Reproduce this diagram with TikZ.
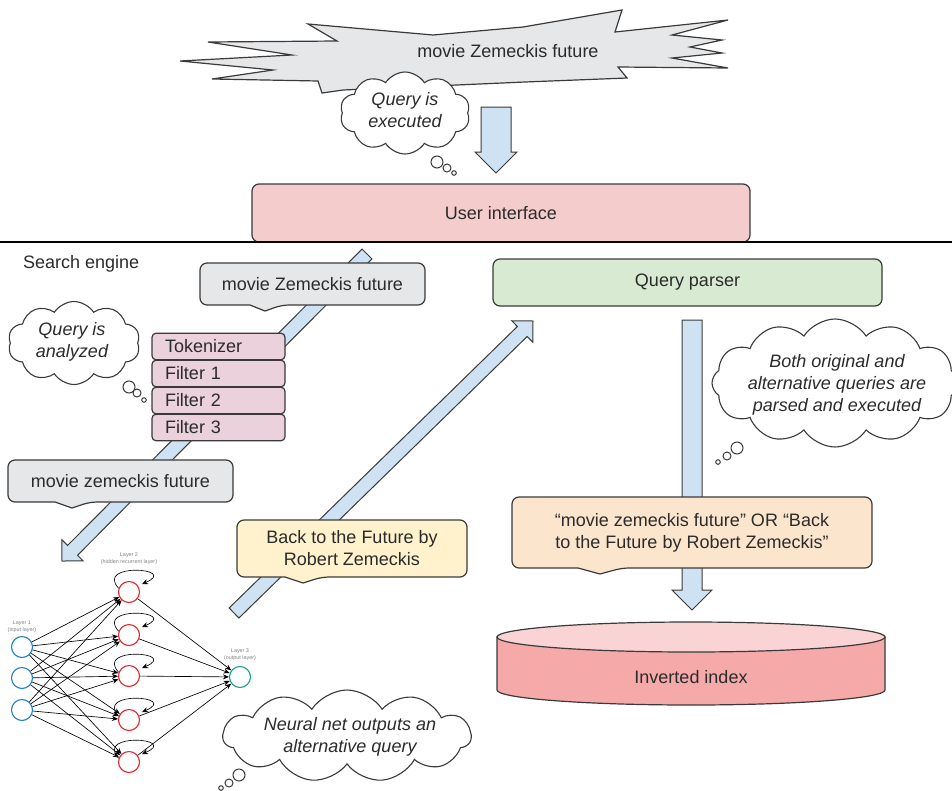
\documentclass[tikz,border=0pt]{standalone}
\usepackage{fontspec}
\setmainfont{Liberation Sans}
\usetikzlibrary{calc,shapes.symbols,arrows.meta}
\pgfdeclarelayer{arrowlayer}
\pgfdeclarelayer{shapelayer}
\pgfsetlayers{arrowlayer,shapelayer,main}

\definecolor{ink}{HTML}{2B2B2B}
\definecolor{edge}{HTML}{3A3A3A}
\definecolor{uifill}{HTML}{F4CCCC}
\definecolor{qpfill}{HTML}{D9EAD3}
\definecolor{filterfill}{HTML}{EAD1DC}
\definecolor{greyfill}{HTML}{E6E7E8}
\definecolor{yellowfill}{HTML}{FFF2CC}
\definecolor{orangefill}{HTML}{FCE5CD}
\definecolor{arrowfill}{HTML}{CFE2F3}
\definecolor{cyltop}{HTML}{FAD4D4}
\definecolor{cylbody}{HTML}{F5A9A9}
\definecolor{nnblue}{HTML}{1F7FD0}
\definecolor{nnred}{HTML}{E8262B}
\definecolor{nnteal}{HTML}{17A08E}

% block arrow: #1 start, #2 tip, #3 half shaft, #4 half head, #5 head length
\newcommand\blockarrow[5]{%
  \coordinate (ba-h) at ($(#2)!#5!(#1)$);
  \draw[arrowbody] ($(#1)!#3!90:(#2)$) -- ($(ba-h)!#3!-90:(#1)$) -- ($(ba-h)!#4!-90:(#1)$)
    -- (#2) -- ($(ba-h)!#4!90:(#1)$) -- ($(ba-h)!#3!90:(#1)$) -- ($(#1)!#3!-90:(#2)$) -- cycle;}

% speech box behind a text node: #1 node, #2 fill, #3 notch left, #4 notch tip, #5 notch right
\newcommand\calloutbox[5]{%
  \draw[stroke, fill=#2] ($(#1.south west)+(#3,0)$) [rounded corners=7pt] -- (#1.south west)
    -- (#1.north west) -- (#1.north east) -- (#1.south east) -- ($(#1.south west)+(#5,0)$)
    [sharp corners] -- ($(#1.south west)+(#4,6)$) -- cycle;}

\begin{document}
\begin{tikzpicture}[x=1pt,y=-1pt,
  font=\fontsize{18}{22}\selectfont, text=ink,
  stroke/.style={draw=edge, line width=1.2pt},
  box/.style={stroke, rounded corners=7pt, inner sep=0pt, outer sep=0pt},
  txt/.style={inner sep=0pt, outer sep=0pt, align=center},
  filterbox/.style={box, fill=filterfill, rounded corners=4pt, minimum width=133pt,
    minimum height=26.5pt, text width=107pt, inner xsep=13pt, align=left},
  arrowbody/.style={draw=edge, line width=1pt, fill=arrowfill, line join=miter},
  thoughtcloud/.style={cloud, draw=edge, line width=1.1pt, fill=white,
    cloud ignores aspect, cloud puff arc=115, inner sep=0pt},
  bubble/.style={draw=edge, line width=1pt, fill=white},
  thinktext/.style={txt, font=\fontsize{18}{22}\selectfont\itshape},
  neuron/.style={circle, minimum size=21pt, inner sep=0pt, line width=1.1pt, fill=white},
  nnedge/.style={-{Stealth[length=6pt,width=5pt]}, line width=0.65pt, black},
  nnlabel/.style={txt, font=\fontsize{5.4}{7}\selectfont, text=gray}]

\useasboundingbox (0,0) rectangle (952,790);

% ---------- incoming query ----------
\draw[stroke, fill=greyfill, line join=miter]
  (180,61) -- (292,55) -- (208,42) -- (337,41) -- (308,24) -- (433,35) -- (523,27)
  -- (622,10) -- (615,32) -- (728,20) -- (672,35) -- (722,40) -- (690,47) -- (722,53)
  -- (672,58) -- (728,68) -- (618,67) -- (627,78) -- (525,82) -- (343,90) -- (322,93)
  -- (318,81) -- (212,79) -- (273,70) -- cycle;
\node[txt] (burst) at (508,51) {movie Zemeckis future};

\node[thoughtcloud, cloud puffs=10, minimum width=130pt, minimum height=82pt] (c1) at (405,113) {};
\node[thinktext] (c1t) at (405,110) {Query is\\executed};
\draw[bubble] (437,162) circle[radius=6pt];
\draw[bubble] (447,168) circle[radius=4pt];
\draw[bubble] (454,173) circle[radius=2.3pt];

% ---------- user interface ----------
\node[box, fill=uifill, minimum width=498pt, minimum height=58pt] (ui) at (501,213) {User interface};
\draw[line width=1.6pt, black] (0,242) -- (952,242);
\node[anchor=base west, inner sep=0pt] (se) at (23,268) {Search engine};

% ---------- block arrows ----------
\coordinate (q1) at (496,107);
\coordinate (q2) at (496,173);
\coordinate (d1) at (367,254);
\coordinate (d2) at (62,561);
\coordinate (u1) at (234,613);
\coordinate (u2) at (533,321);
\coordinate (p1) at (692,320);
\coordinate (p2) at (692,610);
\begin{pgfonlayer}{arrowlayer}
  \blockarrow{q1}{q2}{15pt}{21pt}{21pt}
  \blockarrow{d1}{d2}{7pt}{15pt}{15pt}
  \blockarrow{u1}{u2}{7pt}{15pt}{15pt}
  \blockarrow{p1}{p2}{10pt}{20pt}{20pt}
\end{pgfonlayer}

% ---------- analysis chain ----------
\node[txt, minimum width=225pt, minimum height=42pt] (mzf) at (312.5,284) {movie Zemeckis future};
\node[filterbox] (tok) at (218.5,346.5) {Tokenizer};
\node[filterbox] (f1) at (218.5,373.5) {Filter 1};
\node[filterbox] (f2) at (218.5,400.5) {Filter 2};
\node[filterbox] (f3) at (218.5,427.5) {Filter 3};
\node[txt, minimum width=225pt, minimum height=42pt] (mzl) at (120.5,481) {movie zemeckis future};
\node[txt, minimum width=230pt, minimum height=57pt] (bttf) at (352,548.5) {Back to the Future by\\Robert Zemeckis};
\node[txt, minimum width=360pt, minimum height=71pt] (orq) at (692,532.5) {``movie zemeckis future'' OR ``Back\\to the Future by Robert Zemeckis''};
\begin{pgfonlayer}{shapelayer}
  \calloutbox{mzf}{greyfill}{50}{65}{82}
  \calloutbox{mzl}{greyfill}{47}{64}{82}
  \calloutbox{bttf}{yellowfill}{48}{66}{85}
  \calloutbox{orq}{orangefill}{66}{88}{110}
\end{pgfonlayer}

\node[thoughtcloud, cloud puffs=10, minimum width=132pt, minimum height=83pt] (c2) at (74,343) {};
\node[thinktext] (c2t) at (72,342) {Query is\\analyzed};
\draw[bubble] (129,387) circle[radius=6pt];
\draw[bubble] (137,393) circle[radius=4pt];
\draw[bubble] (144,400) circle[radius=2.3pt];

% ---------- query parser and index ----------
\node[box, fill=qpfill, minimum width=389pt, minimum height=47pt] (qp) at (687.5,282.5) {Query parser};

\node[thoughtcloud, cloud puffs=12, minimum width=246pt, minimum height=128pt] (c3) at (835,383) {};
\node[thinktext] (c3t) at (837,385) {Both original and\\alternative queries are\\parsed and executed};
\draw[bubble] (737,448) circle[radius=6pt];
\draw[bubble] (727,456) circle[radius=4pt];
\draw[bubble] (718,462) circle[radius=2.3pt];

\draw[stroke, fill=cylbody] (497,637) -- (497,690)
  arc[start angle=180, end angle=360, x radius=194pt, y radius=15pt] -- (885,637) -- cycle;
\draw[stroke, fill=cyltop] (691,637) ellipse[x radius=194pt, y radius=15pt];
\node[txt] (idx) at (691,677) {Inverted index};

% ---------- neural net ----------
\node[neuron, draw=nnblue] (i1) at (22,647) {};
\node[neuron, draw=nnblue] (i2) at (22,678) {};
\node[neuron, draw=nnblue] (i3) at (22,710) {};
\node[neuron, draw=nnred] (h1) at (129,592) {};
\node[neuron, draw=nnred] (h2) at (129,635) {};
\node[neuron, draw=nnred] (h3) at (129,676) {};
\node[neuron, draw=nnred] (h4) at (129,720) {};
\node[neuron, draw=nnred] (h5) at (129,762) {};
\node[neuron, draw=nnteal] (o) at (240,677) {};
\node[nnlabel] (l1) at (22,627) {Layer 1\\(input layer)};
\node[nnlabel] (l2) at (129,559) {Layer 2\\(hidden recurrent layer)};
\node[nnlabel] (l3) at (240,655) {Layer 3\\(output layer)};
\foreach \a in {i1,i2,i3}
  \foreach \b in {h1,h2,h3,h4,h5}
    \draw[nnedge] (\a) -- (\b);
\foreach \b in {h1,h2,h3,h4,h5} {
  \draw[nnedge] (\b) -- (o);
  % recurrent self-loop over each hidden unit
  \draw[nnedge] (\b.160) .. controls +(-24,-26) and +(38,-16) .. ($(\b)+(13,-8)$);
}

\node[thoughtcloud, cloud puffs=11, minimum width=248pt, minimum height=92pt] (c4) at (347,736) {};
\node[thinktext] (c4t) at (350,737) {Neural net outputs an\\alternative query};
\draw[bubble] (239,775) circle[radius=6pt];
\draw[bubble] (229,783) circle[radius=4pt];
\draw[bubble] (221,788) circle[radius=2.3pt];

\end{tikzpicture}
\end{document}
